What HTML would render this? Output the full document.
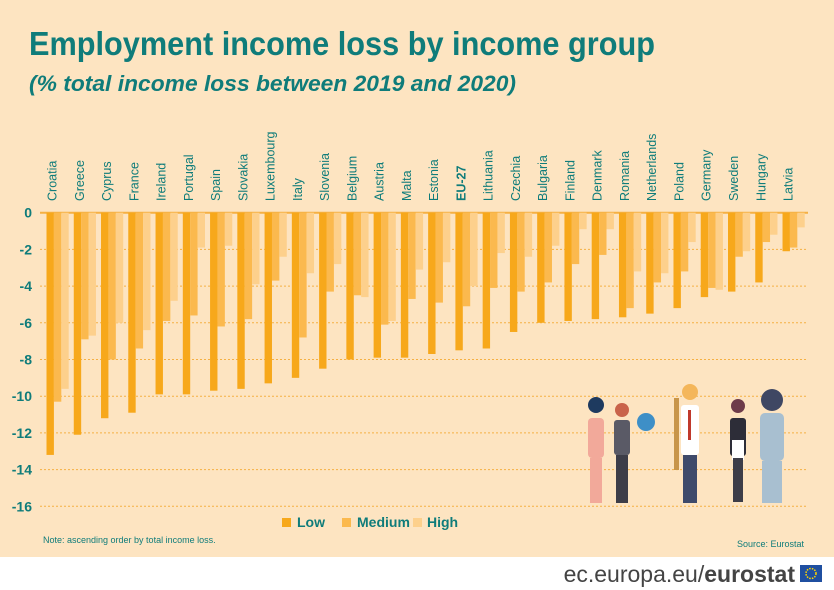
<!DOCTYPE html>
<html><head><meta charset="utf-8"><style>
body{margin:0;width:834px;height:590px;overflow:hidden;background:#fff;font-family:"Liberation Sans",sans-serif}
svg{display:block}
</style></head><body>
<svg id="chart" width="834" height="590" viewBox="0 0 834 590" xmlns="http://www.w3.org/2000/svg">
<rect x="0" y="0" width="834" height="557" fill="#FDE4C1"/>
<text x="29" y="55" font-size="33" font-weight="bold" fill="#0F7C7A" textLength="626" lengthAdjust="spacingAndGlyphs">Employment income loss by income group</text>
<text x="29" y="91" font-size="22" font-style="italic" font-weight="bold" fill="#0F7C7A" textLength="487" lengthAdjust="spacingAndGlyphs">(% total income loss between 2019 and 2020)</text>
<g id="grid"></g><g id="bars"></g><g id="labels"></g><g id="yaxis"></g>
<g>
 <g><circle cx="596" cy="405" r="8" fill="#1E3A5F"/><rect x="588" y="418" width="16" height="40" rx="4" fill="#F2A99A"/><rect x="590" y="458" width="12" height="45" fill="#F2A99A"/></g>
 <g><circle cx="622" cy="410" r="7" fill="#C9634A"/><rect x="614" y="420" width="16" height="35" rx="3" fill="#5A5A66"/><rect x="616" y="455" width="12" height="48" fill="#3D3D48"/><circle cx="646" cy="422" r="9" fill="#3E8FC7"/></g>
 <g><circle cx="690" cy="392" r="8" fill="#F4B65A"/><rect x="681" y="405" width="18" height="50" rx="3" fill="#fff"/><rect x="688" y="410" width="3" height="30" fill="#C0392B"/><rect x="683" y="455" width="14" height="48" fill="#3E4A6B"/><rect x="674" y="398" width="5" height="72" fill="#C8954A"/></g>
 <g><circle cx="738" cy="406" r="7" fill="#6E3B4A"/><rect x="730" y="418" width="16" height="38" rx="3" fill="#2D2D38"/><rect x="732" y="440" width="12" height="20" fill="#fff"/><rect x="733" y="458" width="10" height="44" fill="#3D3D48"/></g>
 <g><circle cx="772" cy="400" r="11" fill="#3F4763"/><rect x="760" y="413" width="24" height="48" rx="5" fill="#A8BFD0"/><rect x="762" y="461" width="20" height="42" fill="#A8BFD0"/></g>
</g>
<g>
 <rect x="282" y="518" width="9" height="9" fill="#F7A81B"/><text x="297" y="527" font-size="14" font-weight="bold" fill="#0F7C7A">Low</text>
 <rect x="342" y="518" width="9" height="9" fill="#FBB94E"/><text x="357" y="527" font-size="14" font-weight="bold" fill="#0F7C7A">Medium</text>
 <rect x="413" y="518" width="9" height="9" fill="#FDD08C"/><text x="427" y="527" font-size="14" font-weight="bold" fill="#0F7C7A">High</text>
</g>
<text x="43" y="543" font-size="9" fill="#0F7C7A">Note: ascending order by total income loss.</text>
<text x="804" y="547" font-size="9" fill="#0F7C7A" text-anchor="end">Source:  Eurostat</text>
<text x="795" y="582" font-size="23" fill="#444" text-anchor="end">ec.europa.eu/<tspan font-weight="bold">eurostat</tspan></text>
<g><rect x="800" y="565" width="22" height="17" fill="#1F4FA0"/><circle cx="811" cy="573.5" r="5" fill="none" stroke="#FFD600" stroke-width="1.5" stroke-dasharray="1.5 1.2"/></g>
</svg>
<script>
const categories=["Croatia","Greece","Cyprus","France","Ireland","Portugal","Spain","Slovakia","Luxembourg","Italy","Slovenia","Belgium","Austria","Malta","Estonia","EU-27","Lithuania","Czechia","Bulgaria","Finland","Denmark","Romania","Netherlands","Poland","Germany","Sweden","Hungary","Latvia"];
const lowValues=[-13.2,-12.1,-11.2,-10.9,-9.9,-9.9,-9.7,-9.6,-9.3,-9.0,-8.5,-8.0,-7.9,-7.9,-7.7,-7.5,-7.4,-6.5,-6.0,-5.9,-5.8,-5.7,-5.5,-5.2,-4.6,-4.3,-3.8,-2.1];
const mediumValues=[-10.3,-6.9,-8.0,-7.4,-5.9,-5.6,-6.2,-5.8,-3.7,-6.8,-4.3,-4.5,-6.1,-4.7,-4.9,-5.1,-4.1,-4.3,-3.8,-2.8,-2.3,-5.2,-3.8,-3.2,-4.1,-2.4,-1.6,-1.9];
const highValues=[-9.6,-6.7,-6.0,-6.4,-4.8,-1.9,-1.8,-3.9,-2.4,-3.3,-2.8,-4.6,-5.9,-3.1,-2.7,-4.0,-2.2,-2.4,-1.8,-0.9,-0.9,-3.2,-3.3,-1.6,-4.2,-2.1,-1.2,-0.8];
const yTicks=[0,-2,-4,-6,-8,-10,-12,-14,-16];
const NS="http://www.w3.org/2000/svg";
function yScale(v){return 212.7+(-v)*18.35;}
function xScale(i){return 46.5+i*27.26;}
const barW=7.4;
const grid=document.getElementById('grid'),bars=document.getElementById('bars'),labels=document.getElementById('labels'),yaxis=document.getElementById('yaxis');
function mk(tag,attrs,parent){const e=document.createElementNS(NS,tag);for(const k in attrs)e.setAttribute(k,attrs[k]);parent.appendChild(e);return e;}
yTicks.forEach(t=>{
 const l=mk('line',{x1:40,x2:808,y1:yScale(t),y2:yScale(t),stroke:'#F5B043','stroke-width':t===0?2:1,'stroke-dasharray':t===0?'':'2 2'},grid);
 
 
 const tx=mk('text',{x:32,y:yScale(t)+5,'font-size':14,'font-weight':'bold',fill:'#0F7C7A','text-anchor':'end'},yaxis);
 tx.textContent=t;
 
 
});
const series=[[lowValues,'#F7A81B','low'],[mediumValues,'#FBB94E','medium'],[highValues,'#FDD08C','high']];
categories.forEach((c,i)=>{
 series.forEach((s,j)=>{
  const v=s[0][i];
  const r=mk('rect',{x:xScale(i)+j*barW,y:yScale(0),width:barW,height:yScale(v)-yScale(0),fill:s[1]},bars);
  
  
 });
 const cx=xScale(i)+5;
 const t=mk('text',{x:0,y:0,transform:`translate(${cx+5},201) rotate(-90)`,'font-size':12.5,fill:'#0F7C7A','font-weight':c==='EU-27'?'bold':'normal'},labels);
 t.textContent=c;
 
 
});
</script>
</body></html>
